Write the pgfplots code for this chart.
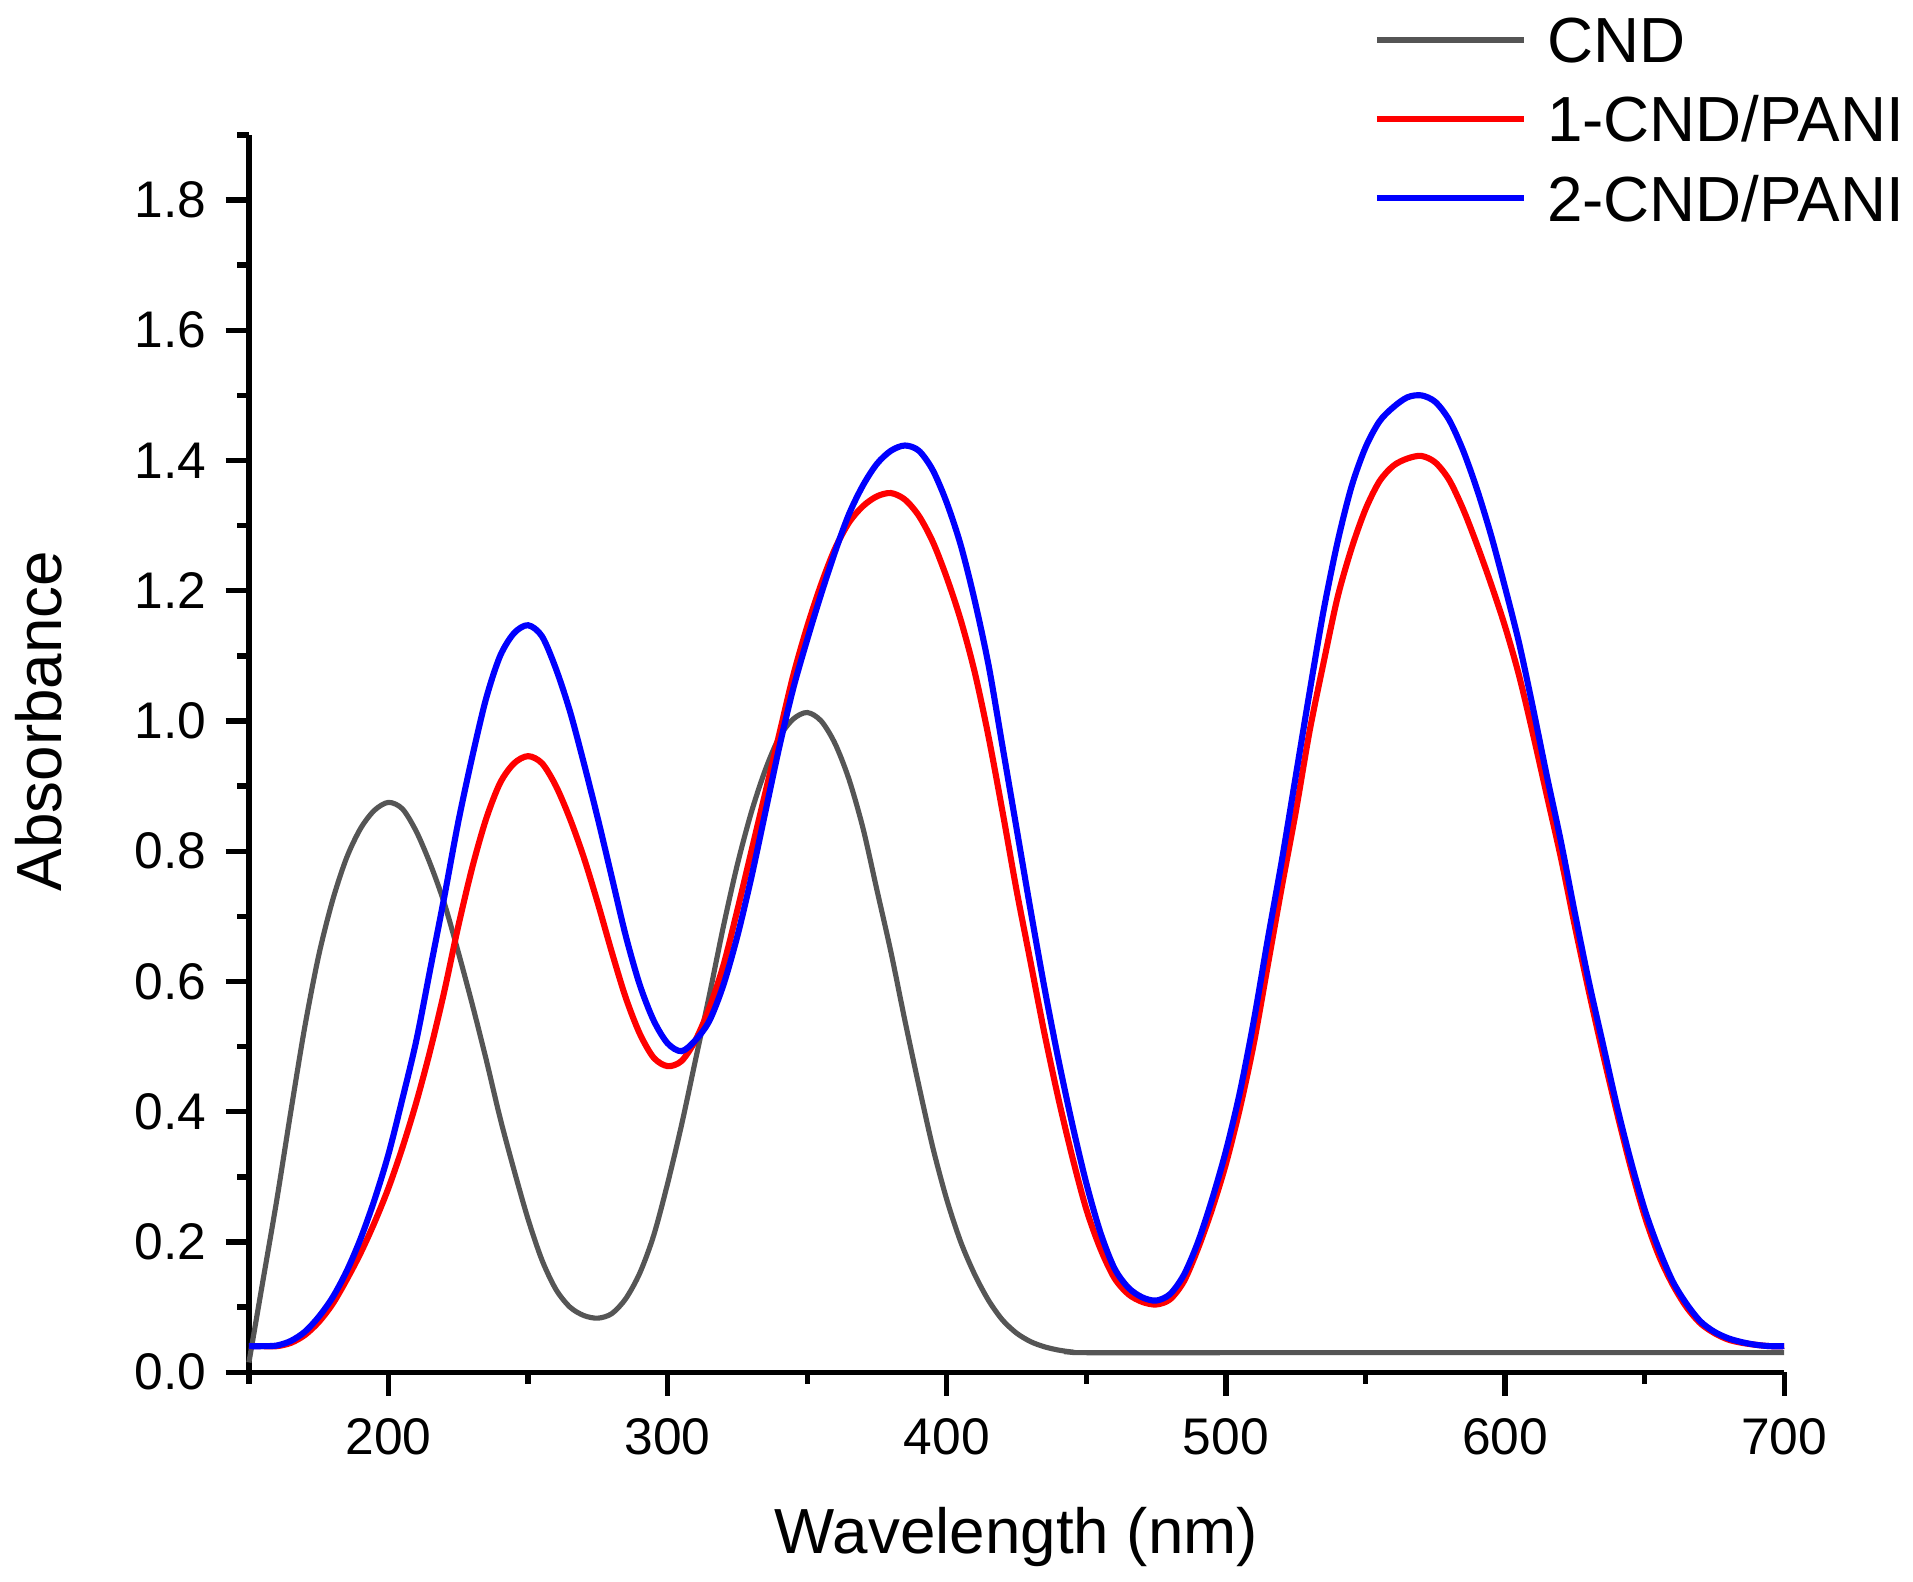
\documentclass[border=0pt]{standalone}
\usepackage{pgfplots}
\usepackage{pgfplotstable}
\pgfplotsset{compat=1.18}
\usepackage{fontspec}
\setmainfont{Liberation Sans}
\definecolor{cndgray}{HTML}{555555}

\pgfplotstableread{
x y
150 0.015
155 0.14
160 0.265
165 0.40
170 0.53
175 0.64
180 0.725
185 0.79
190 0.835
195 0.863
200 0.875
205 0.865
210 0.83
215 0.78
220 0.72
225 0.645
230 0.565
235 0.48
240 0.39
245 0.31
250 0.235
255 0.172
260 0.127
265 0.10
270 0.087
275 0.083
280 0.09
285 0.113
290 0.152
295 0.21
300 0.29
305 0.38
310 0.48
315 0.58
320 0.685
325 0.78
330 0.86
335 0.925
340 0.975
345 1.003
350 1.013
355 1.0
360 0.965
365 0.91
370 0.835
375 0.74
380 0.645
385 0.54
390 0.44
395 0.345
400 0.265
405 0.20
410 0.15
415 0.11
420 0.08
425 0.06
430 0.047
435 0.039
440 0.034
445 0.031
450 0.03
500 0.03
550 0.03
600 0.03
650 0.03
700 0.03
}\cnd

\pgfplotstableread{
x y
150 0.04
155 0.04
160 0.04
165 0.045
170 0.057
175 0.077
180 0.105
185 0.142
190 0.183
195 0.23
200 0.283
205 0.345
210 0.415
215 0.495
220 0.585
225 0.685
230 0.775
235 0.85
240 0.905
245 0.935
250 0.946
255 0.935
260 0.90
265 0.85
270 0.79
275 0.72
280 0.645
285 0.575
290 0.52
295 0.483
300 0.47
305 0.478
310 0.51
315 0.56
320 0.625
325 0.71
330 0.80
335 0.89
340 0.98
345 1.07
350 1.145
355 1.21
360 1.265
365 1.305
370 1.33
375 1.345
380 1.35
385 1.34
390 1.315
395 1.275
400 1.22
405 1.155
410 1.075
415 0.975
420 0.86
425 0.74
430 0.63
435 0.52
440 0.42
445 0.33
450 0.25
455 0.19
460 0.145
465 0.12
470 0.108
475 0.104
480 0.112
485 0.14
490 0.19
495 0.25
500 0.32
505 0.405
510 0.505
515 0.625
520 0.745
525 0.86
530 0.985
535 1.09
540 1.19
545 1.265
550 1.325
555 1.368
560 1.392
565 1.403
570 1.407
575 1.397
580 1.37
585 1.325
590 1.27
595 1.21
600 1.145
605 1.07
610 0.98
615 0.885
620 0.79
625 0.685
630 0.585
635 0.49
640 0.40
645 0.315
650 0.24
655 0.18
660 0.135
665 0.10
670 0.075
675 0.06
680 0.05
685 0.045
690 0.042
695 0.04
700 0.04
}\pania

\pgfplotstableread{
x y
150 0.04
155 0.04
160 0.041
165 0.048
170 0.062
175 0.085
180 0.115
185 0.155
190 0.205
195 0.265
200 0.335
205 0.42
210 0.51
215 0.62
220 0.73
225 0.845
230 0.945
235 1.035
240 1.10
245 1.135
250 1.147
255 1.13
260 1.08
265 1.015
270 0.935
275 0.85
280 0.76
285 0.67
290 0.595
295 0.54
300 0.505
305 0.493
310 0.51
315 0.54
320 0.595
325 0.67
330 0.76
335 0.86
340 0.96
345 1.05
350 1.125
355 1.195
360 1.26
365 1.318
370 1.362
375 1.395
380 1.415
385 1.423
390 1.415
395 1.385
400 1.335
405 1.27
410 1.185
415 1.085
420 0.96
425 0.835
430 0.71
435 0.59
440 0.48
445 0.38
450 0.29
455 0.215
460 0.16
465 0.13
470 0.115
475 0.11
480 0.12
485 0.15
490 0.20
495 0.265
500 0.34
505 0.43
510 0.54
515 0.665
520 0.785
525 0.915
530 1.045
535 1.17
540 1.275
545 1.36
550 1.42
555 1.46
560 1.482
565 1.497
570 1.50
575 1.49
580 1.462
585 1.415
590 1.355
595 1.285
600 1.205
605 1.12
610 1.02
615 0.915
620 0.815
625 0.705
630 0.60
635 0.505
640 0.41
645 0.325
650 0.25
655 0.19
660 0.14
665 0.105
670 0.078
675 0.062
680 0.052
685 0.046
690 0.042
695 0.04
700 0.04
}\panib

\begin{document}
\begin{tikzpicture}
\begin{axis}[
  scale only axis,
  width=313pt, height=252.25pt,
  xmin=150, xmax=700, ymin=0, ymax=1.9,
  axis x line*=bottom, axis y line*=left,
  axis line style={line width=1.1pt, black},
  xtick={200,300,400,500,600,700},
  minor xtick={150,250,350,450,550,650},
  ytick={0,0.2,...,1.8},
  minor ytick={0.1,0.3,...,1.9},
  tick align=outside,
  major tick length=4.75pt, minor tick length=2.4pt,
  every tick/.style={black, line width=1.1pt},
  /pgf/number format/assume math mode=true,
  ticklabel style={font=\fontsize{10.5}{12}\selectfont, inner sep=0pt},
  xticklabel style={anchor=north, yshift=-4.5pt},
  yticklabel style={anchor=east, xshift=-3.75pt,
    /pgf/number format/.cd, fixed, fixed zerofill, precision=1},
  xticklabel={\pgfmathprintnumber[fixed,precision=0]{\tick}},
  xlabel={Wavelength (nm)},
  ylabel={Absorbance},
  label style={font=\fontsize{13}{15}\selectfont, inner sep=0pt},
  xlabel style={at={(axis description cs:0.5,-0.1467)}, anchor=base},
  ylabel style={at={(axis description cs:-0.122,0.5263)}, anchor=base, rotate=0},
  legend style={at={(axis description cs:0.7320,1.0955)}, anchor=north west,
    draw=none, fill=none, inner sep=0pt, row sep=6.8pt, column sep=4.1pt,
    font=\fontsize{13}{15}\selectfont,
    nodes={inner sep=0pt, text depth=0pt}},
  legend cell align=left,
  legend image code/.code={\draw[#1] (0pt,0pt) -- (30pt,0pt);},
  clip=false,
]
\addplot[cndgray, line width=1.05pt, smooth, mark=none] table[x=x,y=y] {\cnd};
\addlegendentry{CND}
\addplot[red, line width=1.25pt, smooth, mark=none] table[x=x,y=y] {\pania};
\addlegendentry{1-CND/PANI}
\addplot[blue, line width=1.25pt, smooth, mark=none] table[x=x,y=y] {\panib};
\addlegendentry{2-CND/PANI}
\coordinate (bl) at (axis description cs:-0.16214,-0.16947);
\coordinate (tr) at (axis description cs:1.08387,1.10902);
\end{axis}
\pgfresetboundingbox
\path (bl) rectangle (tr);
\end{tikzpicture}
\end{document}
